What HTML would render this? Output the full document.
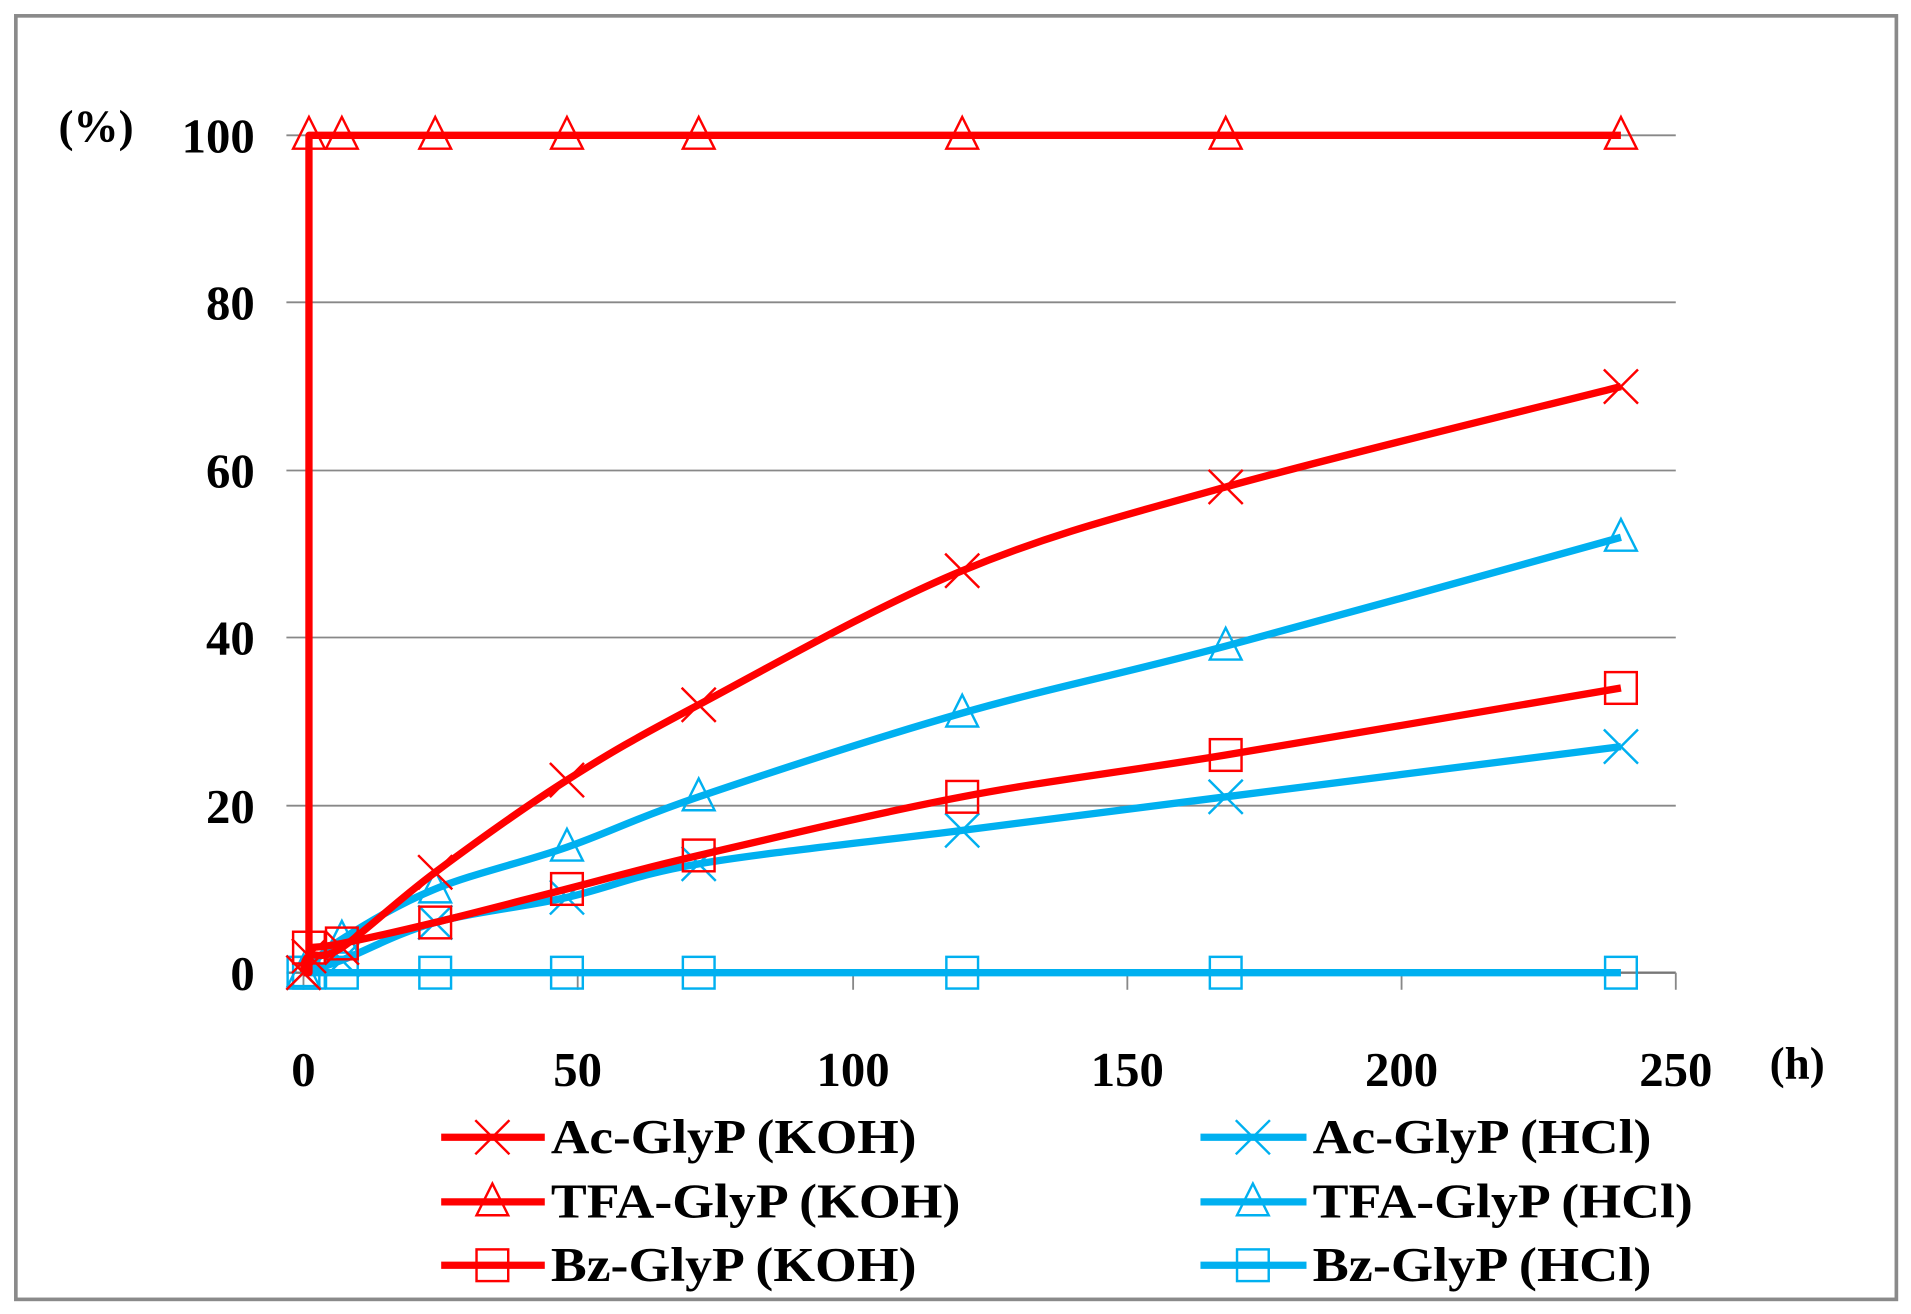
<!DOCTYPE html>
<html><head><meta charset="utf-8"><style>
html,body{margin:0;padding:0;background:#fff;}
svg{display:block;}
text{font-family:"Liberation Serif",serif;font-weight:bold;fill:#000;}
</style></head><body>
<svg id="s" width="1911" height="1314" viewBox="0 0 1568 1078" preserveAspectRatio="none" xmlns="http://www.w3.org/2000/svg">
<rect x="13" y="13" width="1543" height="1053" fill="#fff" stroke="#8a8a8a" stroke-width="3"/>
<g stroke="#888" stroke-width="1.5">
<line x1="235" y1="111" x2="1375" y2="111"/>
<line x1="235" y1="248" x2="1375" y2="248"/>
<line x1="235" y1="386" x2="1375" y2="386"/>
<line x1="235" y1="523" x2="1375" y2="523"/>
<line x1="235" y1="661" x2="1375" y2="661"/>
<line x1="235" y1="798" x2="1375" y2="798" stroke="#777" stroke-width="2"/>
<line x1="249" y1="798" x2="249" y2="812"/><line x1="474" y1="798" x2="474" y2="812"/>
<line x1="700" y1="798" x2="700" y2="812"/><line x1="925" y1="798" x2="925" y2="812"/>
<line x1="1150" y1="798" x2="1150" y2="812"/><line x1="1375" y1="798" x2="1375" y2="812"/>
</g>
<g font-size="40" text-anchor="end">
<text x="209" y="125">100</text><text x="209" y="262">80</text><text x="209" y="400">60</text>
<text x="209" y="537">40</text><text x="209" y="675">20</text><text x="209" y="812">0</text>
</g>
<text x="48" y="116" font-size="37">(%)</text>
<g font-size="40" text-anchor="middle">
<text x="249" y="891">0</text><text x="474" y="891">50</text><text x="700" y="891">100</text>
<text x="925" y="891">150</text><text x="1150" y="891">200</text><text x="1375" y="891">250</text>
</g>
<text x="1452" y="885" font-size="37">(h)</text>
<g id="series"></g>
<g font-size="40">
<text x="452" y="946" textLength="300" lengthAdjust="spacingAndGlyphs">Ac-GlyP (KOH)</text>
<text x="452" y="999" textLength="336" lengthAdjust="spacingAndGlyphs">TFA-GlyP (KOH)</text>
<text x="452" y="1051" textLength="300" lengthAdjust="spacingAndGlyphs">Bz-GlyP (KOH)</text>
<text x="1077" y="946" textLength="278" lengthAdjust="spacingAndGlyphs">Ac-GlyP (HCl)</text>
<text x="1077" y="999" textLength="312" lengthAdjust="spacingAndGlyphs">TFA-GlyP (HCl)</text>
<text x="1077" y="1051" textLength="278" lengthAdjust="spacingAndGlyphs">Bz-GlyP (HCl)</text>
</g>
</svg>
<script>
var R="#ff0000",B="#00b0f0";
function X(t){return 249+t*4.504;}function Y(v){return 798-v*6.87;}
function smooth(p){var d="M"+p[0][0]+","+p[0][1];for(var i=0;i<p.length-1;i++){var p0=p[i-1]||p[i],p1=p[i],p2=p[i+1],p3=p[i+2]||p2;
var c1=[p1[0]+(p2[0]-p0[0])/6,p1[1]+(p2[1]-p0[1])/6],c2=[p2[0]-(p3[0]-p1[0])/6,p2[1]-(p3[1]-p1[1])/6];
d+=" C"+c1+" "+c2+" "+p2;}return d;}
function mk(type,x,y,c){var s=14;
if(type=="x")return '<path d="M'+(x-s)+','+(y-s)+'L'+(x+s)+','+(y+s)+'M'+(x-s)+','+(y+s)+'L'+(x+s)+','+(y-s)+'" stroke="'+c+'" stroke-width="2" fill="none"/>';
if(type=="t")return '<path d="M'+x+','+(y-15)+'L'+(x+13)+','+(y+11)+'L'+(x-13)+','+(y+11)+'Z" stroke="'+c+'" stroke-width="2" fill="none"/>';
return '<rect x="'+(x-13)+'" y="'+(y-13)+'" width="26" height="26" stroke="'+c+'" stroke-width="2" fill="none"/>';}
var S=[
[B,"s",[[0,0],[1,0],[7,0],[24,0],[48,0],[72,0],[120,0],[168,0],[240,0]],0],
[B,"x",[[0,0],[7,1.5],[24,6],[48,9],[72,13],[120,17],[168,21],[240,27]],1],
[B,"t",[[0,0],[7,4],[24,10],[48,15],[72,21],[120,31],[168,39],[240,52]],1],
[R,"s",[[1,3],[7,3.5],[24,6],[48,10],[72,14],[120,21],[168,26],[240,34]],1],
[R,"x",[[0,0],[1,2],[7,3],[24,12],[48,23],[72,32],[120,48],[168,58],[240,70]],1],
[R,"t",[[1,100],[7,100],[24,100],[48,100],[72,100],[120,100],[168,100],[240,100]],2]
];
var h="";
S.forEach(function(s){var p=s[2].map(function(q){return [X(q[0]).toFixed(1),Y(q[1]).toFixed(1)].map(Number);});
var d=s[3]==2?"M"+X(0)+","+Y(0)+" L"+X(1)+","+Y(0)+" L"+X(1)+","+Y(100)+" L"+X(240)+","+Y(100):(s[3]?smooth(p):"M"+p[0]+" L"+p[p.length-1]);
h+='<path d="'+d+'" stroke="'+s[0]+'" stroke-width="6" fill="none" stroke-linejoin="round"/>';
p.forEach(function(q){h+=mk(s[1],q[0],q[1],s[0]);});});
[[R,"x",933],[R,"t",986],[R,"s",1038]].forEach(function(l){h+='<line x1="362" y1="'+l[2]+'" x2="447" y2="'+l[2]+'" stroke="'+l[0]+'" stroke-width="6"/>'+mk(l[1],404,l[2],l[0]);});
[[B,"x",933],[B,"t",986],[B,"s",1038]].forEach(function(l){h+='<line x1="985" y1="'+l[2]+'" x2="1072" y2="'+l[2]+'" stroke="'+l[0]+'" stroke-width="6"/>'+mk(l[1],1028,l[2],l[0]);});
document.getElementById("series").innerHTML=h;
</script>
</body></html>
